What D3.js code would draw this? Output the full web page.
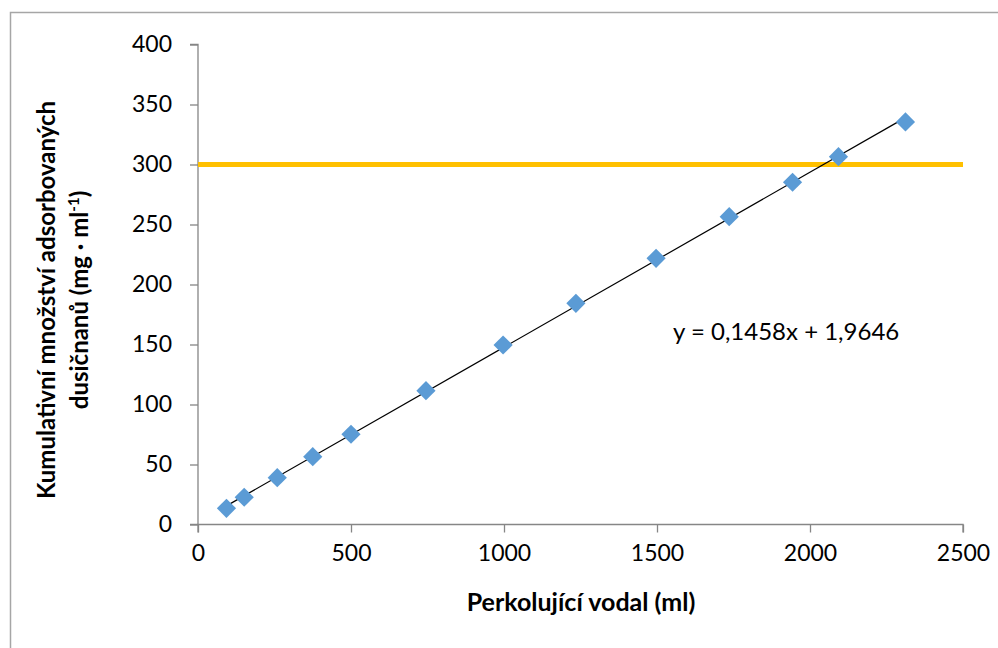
<!DOCTYPE html>
<html>
<head>
<meta charset="utf-8">
<script src="https://cdn.jsdelivr.net/npm/d3@7"></script>
<style>
  body { margin: 0; background: #fff; }
  text { font-family: Lato, "Open Sans", sans-serif; }
</style>
</head>
<body>
<script>
// data
var volume = [93, 151, 259, 375, 500, 745, 997, 1235, 1497, 1736, 1943, 2093, 2312];
var nitrate = [13.5, 22.7, 39, 56.5, 75.2, 111.5, 149.6, 184.3, 221.8, 256.5, 285.2, 306.5, 335.5];
var xTicks = [0, 500, 1000, 1500, 2000, 2500];
var yTicks = [0, 50, 100, 150, 200, 250, 300, 350, 400];
var limitValue = 300;
var slope = 0.1458;
var intercept = 1.9646;
var equationLabel = 'y = 0,1458x + 1,9646';

var wW = 998;
var wH = 648;

var svg = d3.select('body').append('svg')
  .attr('width', wW)
  .attr('height', wH);

// chart frame (only left and top edges are in view)
svg.append('rect')
  .attr('x', 10.5)
  .attr('y', 12.5)
  .attr('width', 1000)
  .attr('height', 700)
  .attr('fill', 'none')
  .attr('stroke', '#a6a6a6')
  .attr('stroke-width', 1.5);

var plotLeft = 198, plotRight = 963, plotTop = 44.5, plotBottom = 524.5;

var x = d3.scaleLinear().domain([0, 2500]).range([plotLeft, plotRight]);
var y = d3.scaleLinear().domain([0, 400]).range([plotBottom, plotTop]);

// axes
var xAxis = svg.append('g')
  .attr('transform', 'translate(0,' + plotBottom + ')')
  .call(d3.axisBottom(x).tickValues(xTicks).tickSize(8).tickPadding(12).tickFormat(d3.format('d')));
var yAxis = svg.append('g')
  .attr('transform', 'translate(' + plotLeft + ',0)')
  .call(d3.axisLeft(y).tickValues(yTicks).tickSize(8).tickPadding(18).tickFormat(d3.format('d')));

[xAxis, yAxis].forEach((ax) => {
  ax.select('.domain').attr('stroke', '#868686').attr('stroke-width', 1.3);
  ax.selectAll('.tick line').attr('stroke', '#868686').attr('stroke-width', 1.3);
  ax.selectAll('.tick text')
    .attr('fill', '#000')
    .style('font-family', 'Lato, sans-serif')
    .style('font-size', '23px');
});
xAxis.select('.domain').attr('d', 'M' + plotLeft + ',8V0H' + plotRight + 'V8');
yAxis.select('.domain').attr('d', 'M-8,' + plotTop + 'H0V' + plotBottom + 'H-8');

// limit line at 300
svg.append('line')
  .attr('x1', x(0))
  .attr('x2', x(2500))
  .attr('y1', y(limitValue))
  .attr('y2', y(limitValue))
  .attr('stroke', '#ffc000')
  .attr('stroke-width', 5);

// linear trend line over the data range
var xMin = d3.min(volume), xMax = d3.max(volume);
svg.append('line')
  .attr('x1', x(xMin))
  .attr('y1', y(slope * xMin + intercept))
  .attr('x2', x(xMax))
  .attr('y2', y(slope * xMax + intercept))
  .attr('stroke', '#000')
  .attr('stroke-width', 1.2);

// markers
var diamond = d3.symbol().type(d3.symbolDiamond2).size(235);
svg.append('g').selectAll('path')
  .data(volume.map((v, i) => [v, nitrate[i]]))
  .join('path')
  .attr('d', diamond)
  .attr('transform', d => 'translate(' + x(d[0]) + ',' + y(d[1]) + ')')
  .attr('fill', '#5b9bd5');

// equation
svg.append('text')
  .attr('x', 673)
  .attr('y', 340)
  .attr('font-size', 24)
  .attr('fill', '#000')
  .text(equationLabel);

// x title
svg.append('text')
  .attr('x', 581)
  .attr('y', 611)
  .attr('text-anchor', 'middle')
  .attr('font-size', 25)
  .attr('font-weight', 'bold')
  .text('Perkolující vodal (ml)');

// y title, two lines
var yTitle = svg.append('text')
  .attr('transform', 'translate(55,300) rotate(-90)')
  .attr('text-anchor', 'middle')
  .attr('font-size', 24)
  .attr('font-weight', 'bold');
yTitle.append('tspan')
  .attr('x', 0)
  .attr('y', 0)
  .text('Kumulativní množství adsorbovaných');
var line2 = yTitle.append('tspan')
  .attr('x', 0)
  .attr('y', 33);
line2.append('tspan').text('dusičnanů (mg · ml');
line2.append('tspan').attr('dy', -9).attr('font-size', 15).text('-1');
line2.append('tspan').attr('dy', 9).text(')');
</script>
</body>
</html>
